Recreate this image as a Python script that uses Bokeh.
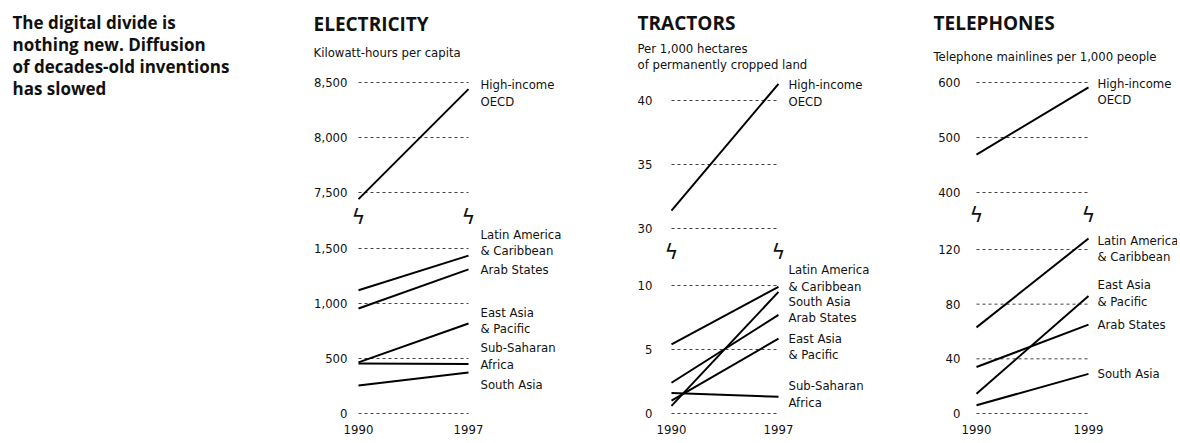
import subprocess
from bokeh.plotting import figure
from bokeh.layouts import row, column
from bokeh.models import FixedTicker, Label, LabelSet, ColumnDataSource, NumeralTickFormatter, Range1d
from bokeh.core.properties import value
from bokeh.embed import file_html
from bokeh.resources import INLINE

# ---------------- data ----------------
headline = ["The digital divide is", "nothing new. Diffusion",
            "of decades-old inventions", "has slowed"]

elec_title = "ELECTRICITY"
elec_subtitle = ["Kilowatt-hours per capita"]
elec_years = [1990, 1997]
elec_top_ticks = [7500, 8000, 8500]
elec_low_ticks = [0, 500, 1000, 1500]
elec_top_names = ["High-income\nOECD"]
elec_top_start = [7440]
elec_top_end = [8440]
elec_low_names = ["Latin America\n& Caribbean", "Arab States", "East Asia\n& Pacific",
                  "Sub-Saharan\nAfrica", "South Asia"]
elec_low_start = [1120, 955, 465, 455, 255]
elec_low_end = [1435, 1310, 818, 450, 372]

trac_title = "TRACTORS"
trac_subtitle = ["Per 1,000 hectares", "of permanently cropped land"]
trac_years = [1990, 1997]
trac_top_ticks = [30, 35, 40]
trac_low_ticks = [0, 5, 10]
trac_top_names = ["High-income\nOECD"]
trac_top_start = [31.4]
trac_top_end = [41.3]
trac_low_names = ["Latin America\n& Caribbean", "South Asia", "Arab States",
                  "East Asia\n& Pacific", "Sub-Saharan\nAfrica"]
trac_low_start = [5.4, 0.6, 2.4, 1.0, 1.6]
trac_low_end = [9.9, 9.5, 7.7, 5.85, 1.3]

tele_title = "TELEPHONES"
tele_subtitle = ["Telephone mainlines per 1,000 people"]
tele_years = [1990, 1999]
tele_top_ticks = [400, 500, 600]
tele_low_ticks = [0, 40, 80, 120]
tele_top_names = ["High-income\nOECD"]
tele_top_start = [469]
tele_top_end = [591]
tele_low_names = ["Latin America\n& Caribbean", "East Asia\n& Pacific", "Arab States", "South Asia"]
tele_low_start = [63, 14.5, 34, 6]
tele_low_end = [128, 86, 65, 29]


# ---------------- fonts ----------------
def families():
    try:
        out = subprocess.run(["fc-list", ":", "family"], capture_output=True,
                             text=True, timeout=10).stdout
    except Exception:
        return set()
    s = set()
    for line in out.splitlines():
        for f in line.split(","):
            s.add(f.strip())
    return s


FAMS = families()
if "Liberation Sans Narrow" in FAMS:
    COND, CSIZE = "Liberation Sans Narrow", 15
elif "DejaVu Sans Condensed" in FAMS:
    COND, CSIZE = "DejaVu Sans Condensed", 13
else:
    COND, CSIZE = "Liberation Sans", 13
CS = f"{CSIZE}px"
BOLD = "Open Sans"
INK = "#111111"
GRID = "#444444"

# ---------------- layout (page pixel geometry) ----------------
PAGE_H = 442
HEAD_H = 74                  # header strip holding panel titles
LOW_BORDER = 28
LOW_FRAME_BOTTOM = PAGE_H - LOW_BORDER

panels = [
    dict(data=(elec_title, elec_subtitle, elec_years, elec_top_ticks, elec_low_ticks,
               elec_top_names, elec_top_start, elec_top_end,
               elec_low_names, elec_low_start, elec_low_end),
         col_left=300, col_w=300, frame_left=352, yr_px=(358, 468), split=203,
         top_map=(8500, 82, 7500, 192), low_map=(1500, 248, 0, 413),
         title_xy=(313, 23), sub_xy=[(313, 52)], break_y=216,
         top_off=[4], low_off=[-13, 0, -3, -8, 12], label_dx=12),
    dict(data=(trac_title, trac_subtitle, trac_years, trac_top_ticks, trac_low_ticks,
               trac_top_names, trac_top_start, trac_top_end,
               trac_low_names, trac_low_start, trac_low_end),
         col_left=600, col_w=305, frame_left=657, yr_px=(671, 778), split=238,
         top_map=(40, 100, 30, 228), low_map=(10, 285, 0, 413),
         title_xy=(637, 22), sub_xy=[(637, 48), (637, 64)], break_y=251,
         top_off=[9], low_off=[-9, 10, 3, 8, -3], label_dx=10),
    dict(data=(tele_title, tele_subtitle, tele_years, tele_top_ticks, tele_low_ticks,
               tele_top_names, tele_top_start, tele_top_end,
               tele_low_names, tele_low_start, tele_low_end),
         col_left=905, col_w=272, frame_left=965, yr_px=(976, 1088), split=201,
         top_map=(600, 82, 400, 192), low_map=(120, 249, 0, 413),
         title_xy=(933, 22), sub_xy=[(933, 56)], break_y=214,
         top_off=[4], low_off=[10, -3, 0, 0], label_dx=9),
]


def y_range_for(mapping, top_px, bottom_px):
    v1, p1, v2, p2 = mapping
    s = (p2 - p1) / (v1 - v2)
    top_v = v1 + (p1 - top_px) / s
    return Range1d(top_v - (bottom_px - top_px) / s, top_v)


def x_range_for(years, yr_px, frame_left, frame_w):
    s = (yr_px[1] - yr_px[0]) / (years[1] - years[0])
    start = years[0] - (yr_px[0] - frame_left) / s
    return Range1d(start, start + frame_w / s)


def base_fig(width, height, left, bottom, xr, yr, with_x, with_y=True):
    p = figure(width=width, height=height, x_range=xr, y_range=yr,
               output_backend="svg", toolbar_location=None,
               x_axis_location="below" if with_x else None,
               y_axis_location="left" if with_y else None,
               min_border_left=left, min_border_right=0, min_border_top=0,
               min_border_bottom=bottom)
    p.frame_align = False
    p.outline_line_color = None
    p.grid.visible = False
    p.background_fill_color = "white"
    p.border_fill_color = "white"
    return p


def style_axis(ax, standoff):
    ax.axis_line_color = None
    ax.major_tick_line_color = None
    ax.minor_tick_line_color = None
    ax.major_tick_out = 0
    ax.major_tick_in = 0
    ax.minor_tick_out = 0
    ax.major_label_standoff = standoff
    ax.major_label_text_font = COND
    ax.major_label_text_font_size = CS
    ax.major_label_text_color = INK


def style_y(p, ticks):
    ax = p.yaxis[0]
    ax.ticker = FixedTicker(ticks=ticks)
    ax.formatter = NumeralTickFormatter(format="0,0")
    style_axis(ax, 5)


def draw_segment(p, years, ticks, names, start, end, offs, dx):
    p.segment(x0=[years[0]] * len(ticks), x1=[years[1]] * len(ticks), y0=ticks, y1=ticks,
              line_color=GRID, line_width=1, line_dash="3 3")
    p.segment(x0=[years[0]] * len(start), x1=[years[1]] * len(end), y0=start, y1=end,
              line_color="black", line_width=2)
    src = ColumnDataSource(dict(x=[years[1]] * len(end), y=end, text=names,
                                yo=[-o for o in offs]))
    p.add_layout(LabelSet(x="x", y="y", text="text", source=src, x_offset=dx, y_offset="yo",
                          text_font=value(COND), text_font_size=value(CS),
                          text_color=INK, text_baseline="middle", text_align="left",
                          text_line_height=1.1))


def screen_label(p, x, y, text, font, size, bold=False):
    p.add_layout(Label(x=x, y=y, x_units="screen", y_units="screen", text=text,
                       text_font=font, text_font_style="bold" if bold else "normal",
                       text_font_size=size, text_color=INK, text_baseline="middle"))


cols = []

# headline column
tfig = base_fig(300, PAGE_H, 0, 0, Range1d(0, 1), Range1d(0, 1), False, False)
for i, line in enumerate(headline):
    screen_label(tfig, 12, PAGE_H - (22 + 22 * i), line, BOLD, "17px", bold=True)
cols.append(tfig)

for spec in panels:
    (title, subtitle, years, top_ticks, low_ticks, top_names, top_start, top_end,
     low_names, low_start, low_end) = spec["data"]
    left = spec["frame_left"] - spec["col_left"]
    frame_w = spec["col_left"] + spec["col_w"] - spec["frame_left"]
    split = spec["split"]

    # header with panel title and unit line
    head = base_fig(spec["col_w"], HEAD_H, 0, 0, Range1d(0, 1), Range1d(0, 1), False, False)
    tx, ty = spec["title_xy"]
    screen_label(head, tx - spec["col_left"], HEAD_H - ty, title, BOLD, "19px", bold=True)
    for s_text, (sx, sy) in zip(subtitle, spec["sub_xy"]):
        screen_label(head, sx - spec["col_left"], HEAD_H - sy, s_text, COND, CS)

    # upper part of the broken axis
    top = base_fig(spec["col_w"], split - HEAD_H, left, 0,
                   x_range_for(years, spec["yr_px"], spec["frame_left"], frame_w),
                   y_range_for(spec["top_map"], HEAD_H, split), False)
    style_y(top, top_ticks)
    draw_segment(top, years, top_ticks, top_names, top_start, top_end,
                 spec["top_off"], spec["label_dx"])

    # lower part of the broken axis
    low = base_fig(spec["col_w"], PAGE_H - split, left, LOW_BORDER,
                   x_range_for(years, spec["yr_px"], spec["frame_left"], frame_w),
                   y_range_for(spec["low_map"], split, LOW_FRAME_BOTTOM), True)
    style_y(low, low_ticks)
    xa = low.xaxis[0]
    xa.ticker = FixedTicker(ticks=years)
    style_axis(xa, 10)
    draw_segment(low, years, low_ticks, low_names, low_start, low_end,
                 spec["low_off"], spec["label_dx"])
    for yv in years:
        low.add_layout(Label(x=yv, y=(LOW_FRAME_BOTTOM - split) - (spec["break_y"] - split),
                             y_units="screen", text="ϟ", text_font="DejaVu Sans",
                             text_font_size="21px", text_color=INK,
                             text_baseline="middle", text_align="center"))
    cols.append(column(head, top, low, spacing=0))

layout = row(*cols, spacing=0)
open("out.html", "w").write(file_html(layout, INLINE))
